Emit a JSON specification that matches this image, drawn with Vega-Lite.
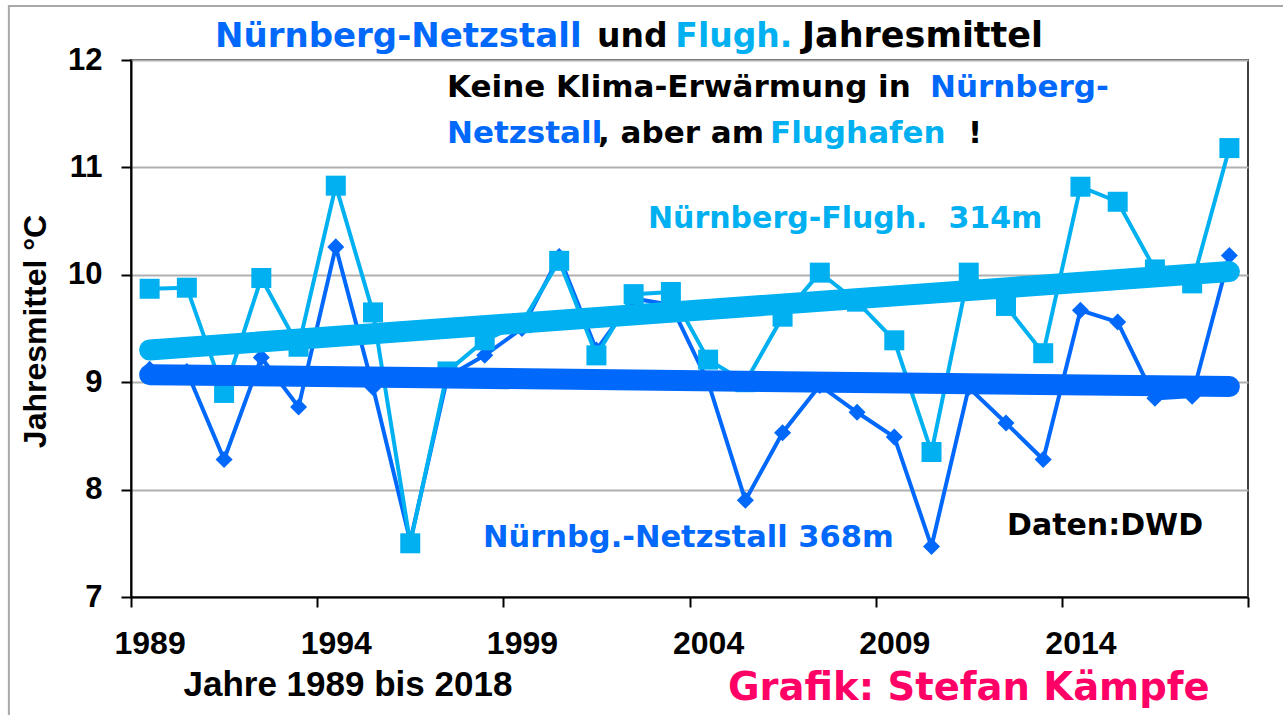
{
  "$schema": "https://vega.github.io/schema/vega-lite/v6.json",
  "width": 1117,
  "height": 537,
  "autosize": {"type": "none"},
  "padding": {"left": 131, "top": 60, "right": 35, "bottom": 118},
  "background": "white",
  "config": {"view": {"stroke": "#404040", "strokeWidth": 2}},
  "datasets": {
    "temps": [
      {"year": 1989, "station": "Flughafen", "temp": 9.87}, {"year": 1989, "station": "Netzstall", "temp": 9.12},
      {"year": 1990, "station": "Flughafen", "temp": 9.88}, {"year": 1990, "station": "Netzstall", "temp": 9.10},
      {"year": 1991, "station": "Flughafen", "temp": 8.90}, {"year": 1991, "station": "Netzstall", "temp": 8.28},
      {"year": 1992, "station": "Flughafen", "temp": 9.97}, {"year": 1992, "station": "Netzstall", "temp": 9.23},
      {"year": 1993, "station": "Flughafen", "temp": 9.33}, {"year": 1993, "station": "Netzstall", "temp": 8.77},
      {"year": 1994, "station": "Flughafen", "temp": 10.83}, {"year": 1994, "station": "Netzstall", "temp": 10.26},
      {"year": 1995, "station": "Flughafen", "temp": 9.65}, {"year": 1995, "station": "Netzstall", "temp": 8.95},
      {"year": 1996, "station": "Flughafen", "temp": 7.50}, {"year": 1996, "station": "Netzstall", "temp": 7.52},
      {"year": 1997, "station": "Flughafen", "temp": 9.10}, {"year": 1997, "station": "Netzstall", "temp": 9.05},
      {"year": 1998, "station": "Flughafen", "temp": 9.39}, {"year": 1998, "station": "Netzstall", "temp": 9.25},
      {"year": 1999, "station": "Flughafen", "temp": 9.55}, {"year": 1999, "station": "Netzstall", "temp": 9.50},
      {"year": 2000, "station": "Flughafen", "temp": 10.13}, {"year": 2000, "station": "Netzstall", "temp": 10.17},
      {"year": 2001, "station": "Flughafen", "temp": 9.25}, {"year": 2001, "station": "Netzstall", "temp": 9.30},
      {"year": 2002, "station": "Flughafen", "temp": 9.82}, {"year": 2002, "station": "Netzstall", "temp": 9.78},
      {"year": 2003, "station": "Flughafen", "temp": 9.84}, {"year": 2003, "station": "Netzstall", "temp": 9.72},
      {"year": 2004, "station": "Flughafen", "temp": 9.21}, {"year": 2004, "station": "Netzstall", "temp": 9.00},
      {"year": 2005, "station": "Flughafen", "temp": 9.00}, {"year": 2005, "station": "Netzstall", "temp": 7.90},
      {"year": 2006, "station": "Flughafen", "temp": 9.61}, {"year": 2006, "station": "Netzstall", "temp": 8.53},
      {"year": 2007, "station": "Flughafen", "temp": 10.02}, {"year": 2007, "station": "Netzstall", "temp": 8.97},
      {"year": 2008, "station": "Flughafen", "temp": 9.75}, {"year": 2008, "station": "Netzstall", "temp": 8.72},
      {"year": 2009, "station": "Flughafen", "temp": 9.39}, {"year": 2009, "station": "Netzstall", "temp": 8.49},
      {"year": 2010, "station": "Flughafen", "temp": 8.35}, {"year": 2010, "station": "Netzstall", "temp": 7.47},
      {"year": 2011, "station": "Flughafen", "temp": 10.02}, {"year": 2011, "station": "Netzstall", "temp": 8.95},
      {"year": 2012, "station": "Flughafen", "temp": 9.71}, {"year": 2012, "station": "Netzstall", "temp": 8.62},
      {"year": 2013, "station": "Flughafen", "temp": 9.27}, {"year": 2013, "station": "Netzstall", "temp": 8.28},
      {"year": 2014, "station": "Flughafen", "temp": 10.82}, {"year": 2014, "station": "Netzstall", "temp": 9.67},
      {"year": 2015, "station": "Flughafen", "temp": 10.68}, {"year": 2015, "station": "Netzstall", "temp": 9.56},
      {"year": 2016, "station": "Flughafen", "temp": 10.05}, {"year": 2016, "station": "Netzstall", "temp": 8.85},
      {"year": 2017, "station": "Flughafen", "temp": 9.92}, {"year": 2017, "station": "Netzstall", "temp": 8.87},
      {"year": 2018, "station": "Flughafen", "temp": 11.18}, {"year": 2018, "station": "Netzstall", "temp": 10.18}
    ],
    "trend": [
      {"year": 1989, "station": "Flughafen", "temp": 9.30},
      {"year": 2018, "station": "Flughafen", "temp": 10.03},
      {"year": 1989, "station": "Netzstall", "temp": 9.07},
      {"year": 2018, "station": "Netzstall", "temp": 8.96}
    ],
    "one": [{"n": 1}]
  },
  "layer": [
    {
      "data": {"name": "temps"},
      "encoding": {
        "x": {
          "field": "year", "type": "quantitative",
          "scale": {"domain": [1988.5, 2018.5], "nice": false, "zero": false},
          "axis": {
            "values": [1988.5, 1993.5, 1998.5, 2003.5, 2008.5, 2013.5, 2018.5],
            "labelExpr": "datum.value < 2018 ? format(datum.value + 0.5, 'd') : ''",
            "labelOffset": 18.6,
            "labelFlush": false,
            "labelOverlap": false,
            "labelFont": "Liberation Sans", "labelFontWeight": "bold", "labelFontSize": 32, "labelColor": "black",
            "labelBaseline": "alphabetic", "labelPadding": 46,
            "tickSize": 10, "tickColor": "black", "tickWidth": 2,
            "domainColor": "black", "domainWidth": 2,
            "grid": false,
            "title": "Jahre 1989 bis 2018",
            "titleFont": "Liberation Sans", "titleFontWeight": "bold", "titleFontSize": 35, "titleColor": "black",
            "titleX": 52, "titleY": 98, "titleAlign": "left", "titleAnchor": "start", "titleBaseline": "alphabetic"
          }
        },
        "y": {
          "field": "temp", "type": "quantitative",
          "scale": {"domain": [7, 12], "nice": false, "zero": false},
          "axis": {
            "values": [7, 8, 9, 10, 11, 12],
            "format": "d",
            "labelFont": "Liberation Sans", "labelFontWeight": "bold", "labelFontSize": 31, "labelColor": "black",
            "labelPadding": 19, "labelBaseline": "middle",
            "tickSize": 10, "tickColor": "black", "tickWidth": 2,
            "domainColor": "black", "domainWidth": 2,
            "grid": true, "gridColor": "#b0b0b0", "gridWidth": 2,
            "title": "Jahresmittel °C",
            "titleFont": "Liberation Sans", "titleFontWeight": "bold", "titleFontSize": 32, "titleColor": "black",
            "titleX": -86, "titleY": 271, "titleAngle": -90, "titleAlign": "center", "titleBaseline": "alphabetic"
          }
        }
      },
      "layer": [
        {
          "transform": [{"filter": "datum.station === 'Netzstall'"}],
          "mark": {"type": "line", "color": "#0068FA", "strokeWidth": 4}
        },
        {
          "transform": [{"filter": "datum.station === 'Netzstall'"}],
          "mark": {"type": "point", "shape": "diamond", "filled": true, "size": 290, "color": "#0068FA", "opacity": 1}
        },
        {
          "transform": [{"filter": "datum.station === 'Flughafen'"}],
          "mark": {"type": "line", "color": "#00B0F0", "strokeWidth": 4}
        },
        {
          "transform": [{"filter": "datum.station === 'Flughafen'"}],
          "mark": {"type": "point", "shape": "square", "filled": true, "size": 400, "color": "#00B0F0", "opacity": 1}
        }
      ]
    },
    {
      "data": {"name": "trend"},
      "encoding": {
        "x": {"field": "year", "type": "quantitative"},
        "y": {"field": "temp", "type": "quantitative"}
      },
      "layer": [
        {
          "transform": [{"filter": "datum.station === 'Flughafen'"}],
          "mark": {"type": "line", "color": "#00B0F0", "strokeWidth": 21, "strokeCap": "round"}
        },
        {
          "transform": [{"filter": "datum.station === 'Netzstall'"}],
          "mark": {"type": "line", "color": "#0068FA", "strokeWidth": 21, "strokeCap": "round"}
        }
      ]
    },
    {
      "data": {"name": "one"},
      "mark": {"type": "text", "text": "Nürnberg-Netzstall", "font": "DejaVu Sans", "fontWeight": "bold", "fontSize": 34, "color": "#0068FA", "align": "left", "baseline": "alphabetic"},
      "encoding": {"x": {"datum": 1990.756, "type": "quantitative"}, "y": {"datum": 12.121, "type": "quantitative"}}
    },
    {
      "data": {"name": "one"},
      "mark": {"type": "text", "text": "und", "font": "DejaVu Sans", "fontWeight": "bold", "fontSize": 33, "color": "black", "align": "left", "baseline": "alphabetic"},
      "encoding": {"x": {"datum": 2001.016, "type": "quantitative"}, "y": {"datum": 12.121, "type": "quantitative"}}
    },
    {
      "data": {"name": "one"},
      "mark": {"type": "text", "text": "Flugh.", "font": "DejaVu Sans", "fontWeight": "bold", "fontSize": 33, "color": "#00B0F0", "align": "left", "baseline": "alphabetic"},
      "encoding": {"x": {"datum": 2003.12, "type": "quantitative"}, "y": {"datum": 12.121, "type": "quantitative"}}
    },
    {
      "data": {"name": "one"},
      "mark": {"type": "text", "text": "Jahresmittel", "font": "DejaVu Sans", "fontWeight": "bold", "fontSize": 35, "color": "black", "align": "left", "baseline": "alphabetic"},
      "encoding": {"x": {"datum": 2006.522, "type": "quantitative"}, "y": {"datum": 12.121, "type": "quantitative"}}
    },
    {
      "data": {"name": "one"},
      "mark": {"type": "text", "text": "Keine Klima-Erwärmung in", "font": "DejaVu Sans", "fontWeight": "bold", "fontSize": 31, "color": "black", "align": "left", "baseline": "alphabetic"},
      "encoding": {"x": {"datum": 1996.987, "type": "quantitative"}, "y": {"datum": 11.6555, "type": "quantitative"}}
    },
    {
      "data": {"name": "one"},
      "mark": {"type": "text", "text": "Nürnberg-", "font": "DejaVu Sans", "fontWeight": "bold", "fontSize": 31, "color": "#0068FA", "align": "left", "baseline": "alphabetic"},
      "encoding": {"x": {"datum": 2009.959, "type": "quantitative"}, "y": {"datum": 11.6555, "type": "quantitative"}}
    },
    {
      "data": {"name": "one"},
      "mark": {"type": "text", "text": "Netzstall", "font": "DejaVu Sans", "fontWeight": "bold", "fontSize": 31, "color": "#0068FA", "align": "left", "baseline": "alphabetic"},
      "encoding": {"x": {"datum": 1996.987, "type": "quantitative"}, "y": {"datum": 11.2272, "type": "quantitative"}}
    },
    {
      "data": {"name": "one"},
      "mark": {"type": "text", "text": ", aber am", "font": "DejaVu Sans", "fontWeight": "bold", "fontSize": 31, "color": "black", "align": "left", "baseline": "alphabetic"},
      "encoding": {"x": {"datum": 2001.043, "type": "quantitative"}, "y": {"datum": 11.2272, "type": "quantitative"}}
    },
    {
      "data": {"name": "one"},
      "mark": {"type": "text", "text": "Flughafen", "font": "DejaVu Sans", "fontWeight": "bold", "fontSize": 31, "color": "#00B0F0", "align": "left", "baseline": "alphabetic"},
      "encoding": {"x": {"datum": 2005.662, "type": "quantitative"}, "y": {"datum": 11.2272, "type": "quantitative"}}
    },
    {
      "data": {"name": "one"},
      "mark": {"type": "text", "text": "!", "font": "DejaVu Sans", "fontWeight": "bold", "fontSize": 31, "color": "black", "align": "left", "baseline": "alphabetic"},
      "encoding": {"x": {"datum": 2010.98, "type": "quantitative"}, "y": {"datum": 11.2272, "type": "quantitative"}}
    },
    {
      "data": {"name": "one"},
      "mark": {"type": "text", "text": "Nürnberg-Flugh.\u00a0 314m", "font": "DejaVu Sans", "fontWeight": "bold", "fontSize": 30, "color": "#00B0F0", "align": "left", "baseline": "alphabetic"},
      "encoding": {"x": {"datum": 2002.385, "type": "quantitative"}, "y": {"datum": 10.436, "type": "quantitative"}}
    },
    {
      "data": {"name": "one"},
      "mark": {"type": "text", "text": "Nürnbg.-Netzstall 368m", "font": "DejaVu Sans", "fontWeight": "bold", "fontSize": 30.5, "color": "#0068FA", "align": "left", "baseline": "alphabetic"},
      "encoding": {"x": {"datum": 1997.954, "type": "quantitative"}, "y": {"datum": 7.4655, "type": "quantitative"}}
    },
    {
      "data": {"name": "one"},
      "mark": {"type": "text", "text": "Daten:DWD", "font": "DejaVu Sans", "fontWeight": "bold", "fontSize": 30, "color": "black", "align": "left", "baseline": "alphabetic"},
      "encoding": {"x": {"datum": 2012.027, "type": "quantitative"}, "y": {"datum": 7.5773, "type": "quantitative"}}
    },
    {
      "data": {"name": "one"},
      "mark": {"type": "text", "text": "Grafik: Stefan Kämpfe", "font": "DejaVu Sans", "fontWeight": "bold", "fontSize": 38.5, "color": "#FF0066", "align": "left", "baseline": "alphabetic"},
      "encoding": {"x": {"datum": 2004.534, "type": "quantitative"}, "y": {"datum": 6.041, "type": "quantitative"}}
    },
    {
      "data": {"name": "one"},
      "mark": {"type": "rect", "fill": "transparent", "stroke": "#a8a8a8", "strokeWidth": 2},
      "encoding": {"x": {"datum": 1985.22, "type": "quantitative"}, "x2": {"datum": 2020.0}, "y": {"datum": 12.503, "type": "quantitative"}, "y2": {"datum": 5.7}}
    }
  ]
}
